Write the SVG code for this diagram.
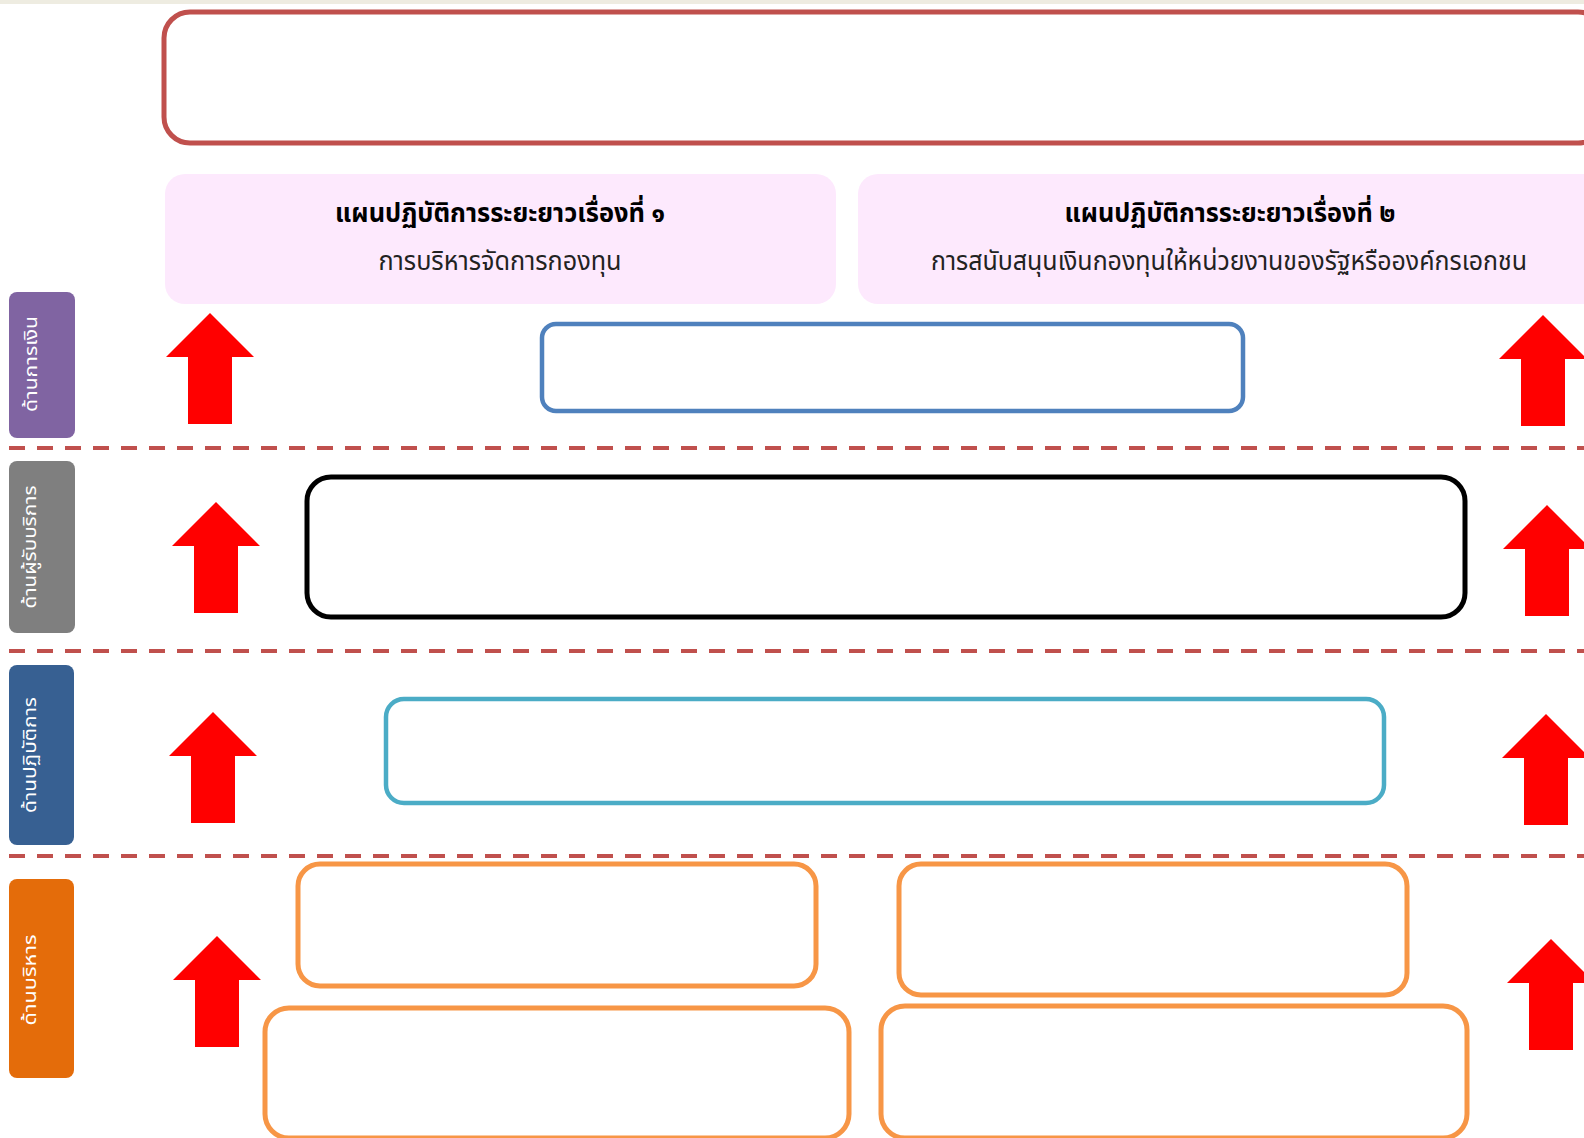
<svg xmlns="http://www.w3.org/2000/svg" width="1584" height="1138" viewBox="0 0 1584 1138">
<style>
.bg{fill:#ffffff}
.box{fill:#ffffff}
.red{stroke:#C0504D;stroke-width:5}
.blue{stroke:#4F81BD;stroke-width:4.5}
.black{stroke:#000000;stroke-width:5}
.cyan{stroke:#4BACC6;stroke-width:4.5}
.orange{stroke:#F79646;stroke-width:5}
.plan{fill:#FDE9FD}
.t{font-family:"Noto Sans Thai","Noto Sans","DejaVu Sans",sans-serif;text-anchor:middle;fill:#000}
.title{font-size:26px;font-weight:bold}
.sub{font-size:26px;font-weight:normal;fill:#222}
.side{font-family:"Noto Sans Thai","Noto Sans","DejaVu Sans",sans-serif;font-size:17px;fill:#ffffff;text-anchor:middle}
.dash{stroke:#C0504D;stroke-width:4;stroke-dasharray:16 12;fill:none}
.arrow{fill:#FF0000}
</style>
<defs>
<path id="up" d="M0,0 L44,44 L22,44 L22,111 L-22,111 L-22,44 L-44,44 Z"/>
</defs>
<rect class="bg" x="0" y="0" width="1584" height="1138"/>
<rect x="0" y="0" width="1584" height="4" fill="#EEECE1"/>

<g id="top-box"><rect class="box red" x="164" y="12" width="1440" height="131" rx="26"/></g>

<g id="plan1">
<rect class="plan" x="165" y="174" width="671" height="130" rx="20"/>
<text class="t title" x="500" y="222" textLength="330" lengthAdjust="spacingAndGlyphs">แผนปฏิบัติการระยะยาวเรื่องที่ ๑</text>
<text class="t sub" x="500" y="270" textLength="243" lengthAdjust="spacingAndGlyphs">การบริหารจัดการกองทุน</text>
</g>
<g id="plan2">
<rect class="plan" x="858" y="174" width="760" height="130" rx="20"/>
<text class="t title" x="1230" y="222" textLength="331" lengthAdjust="spacingAndGlyphs">แผนปฏิบัติการระยะยาวเรื่องที่ ๒</text>
<text class="t sub" x="1229" y="270" textLength="596" lengthAdjust="spacingAndGlyphs">การสนับสนุนเงินกองทุนให้หน่วยงานของรัฐหรือองค์กรเอกชน</text>
</g>

<g id="side-finance">
<rect x="9" y="292" width="66" height="146" rx="8" fill="#8064A2"/>
<text class="side" transform="translate(37,364) rotate(-90)" textLength="96" lengthAdjust="spacingAndGlyphs">ด้านการเงิน</text>
</g>
<g id="side-customer">
<rect x="9" y="461" width="66" height="172" rx="8" fill="#7F7F7F"/>
<text class="side" transform="translate(36,547) rotate(-90)" textLength="123" lengthAdjust="spacingAndGlyphs">ด้านผู้รับบริการ</text>
</g>
<g id="side-operation">
<rect x="9" y="665" width="65" height="180" rx="8" fill="#376092"/>
<text class="side" transform="translate(36,755) rotate(-90)" textLength="116" lengthAdjust="spacingAndGlyphs">ด้านปฏิบัติการ</text>
</g>
<g id="side-admin">
<rect x="9" y="879" width="65" height="199" rx="8" fill="#E46C0A"/>
<text class="side" transform="translate(36,980) rotate(-90)" textLength="91" lengthAdjust="spacingAndGlyphs">ด้านบริหาร</text>
</g>

<g id="separators">
<line class="dash" x1="9" y1="448" x2="1584" y2="448"/>
<line class="dash" x1="9" y1="651" x2="1584" y2="651"/>
<line class="dash" x1="9" y1="856" x2="1584" y2="856"/>
</g>

<g id="finance-box"><rect class="box blue" x="542" y="324" width="701" height="87" rx="14"/></g>
<g id="customer-box"><rect class="box black" x="307" y="477" width="1158" height="140" rx="24"/></g>
<g id="operation-box"><rect class="box cyan" x="386" y="699" width="998" height="104" rx="18"/></g>
<g id="admin-box-1"><rect class="box orange" x="298" y="864" width="518" height="122" rx="22"/></g>
<g id="admin-box-2"><rect class="box orange" x="899" y="864" width="508" height="131" rx="22"/></g>
<g id="admin-box-3"><rect class="box orange" x="265" y="1008" width="584" height="130" rx="24"/></g>
<g id="admin-box-4"><rect class="box orange" x="881" y="1006" width="586" height="132" rx="24"/></g>

<g id="arrows" class="arrow">
<use href="#up" x="210" y="313"/>
<use href="#up" x="216" y="502"/>
<use href="#up" x="213" y="712"/>
<use href="#up" x="217" y="936"/>
<use href="#up" x="1543" y="315"/>
<use href="#up" x="1547" y="505"/>
<use href="#up" x="1546" y="714"/>
<use href="#up" x="1551" y="939"/>
</g>
</svg>
